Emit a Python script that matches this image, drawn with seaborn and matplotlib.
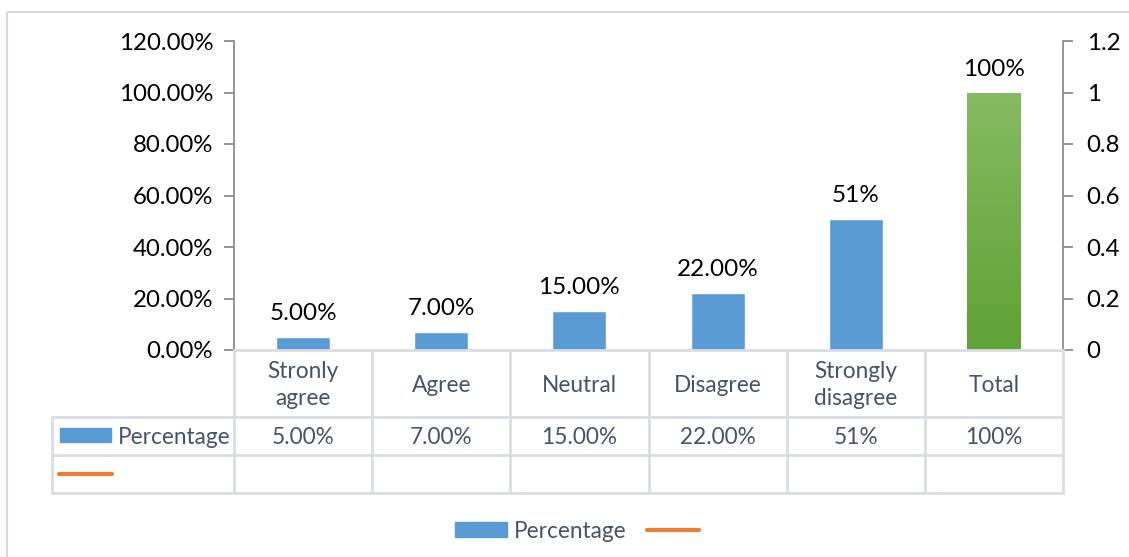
import numpy as np
import pandas as pd
import seaborn as sns
import matplotlib
matplotlib.use("Agg")
import matplotlib.pyplot as plt
from matplotlib import transforms
from matplotlib.patches import Rectangle, Patch
from matplotlib.lines import Line2D
from matplotlib.colors import LinearSegmentedColormap

categories = ["Stronly\nagree", "Agree", "Neutral", "Disagree", "Strongly\ndisagree", "Total"]
values = [0.05, 0.07, 0.15, 0.22, 0.51, 1.00]
value_labels = ["5.00%", "7.00%", "15.00%", "22.00%", "51%", "100%"]
left_ticks = [0, 0.2, 0.4, 0.6, 0.8, 1.0, 1.2]
left_tick_labels = ["0.00%", "20.00%", "40.00%", "60.00%", "80.00%", "100.00%", "120.00%"]
right_tick_labels = ["0", "0.2", "0.4", "0.6", "0.8", "1", "1.2"]
series_name = "Percentage"

BLUE = "#5B9BD5"
GREEN = "#70AD47"
ORANGE = "#ED7D31"
GRID = "#D9DDE3"
AXIS = "#8C8C8C"
TXT = "#44546A"

sns.set_theme(style="white")
plt.rcParams["font.family"] = ["Lato", "DejaVu Sans"]

W, H = 1129, 557
fig = plt.figure(figsize=(W / 100, H / 100), dpi=100)
pix = transforms.Affine2D().scale(1 / W, -1 / H).translate(0, 1) + fig.transFigure

ax = fig.add_axes([234 / W, (H - 350) / H, (1063 - 234) / W, 309 / H])
df = pd.DataFrame({"cat": categories, "val": values})
colors = [BLUE] * (len(categories) - 1) + [GREEN]
sns.barplot(data=df, x="cat", y="val", hue="cat", palette=colors, legend=False,
            width=0.39, saturation=1, ax=ax)

# gradient on total bar
p = ax.patches[-1]
bx0, by0 = p.get_x(), p.get_y()
bw, bh = p.get_width(), p.get_height()
grad = np.linspace(1, 0, 256).reshape(-1, 1)
cmap = LinearSegmentedColormap.from_list("g", ["#5FA234", "#87BA62"])
im = ax.imshow(grad, cmap=cmap, extent=(bx0, bx0 + bw, by0, by0 + bh), aspect="auto",
               origin="upper", zorder=3)
im.set_clip_path(p)

ax.set_xlim(-0.5, len(categories) - 0.5)
ax.set_ylim(0, 1.2)
ax.set_xlabel("")
ax.set_ylabel("")
ax.set_xticks([])
ax.set_yticks(left_ticks)
ax.set_yticklabels(left_tick_labels, fontsize=17.3, color="black")
ax.tick_params(axis="y", which="both", left=True, length=7, width=1.3, color=AXIS, pad=8)
for s in ["top", "right"]:
    ax.spines[s].set_visible(False)
ax.spines["left"].set_color(AXIS)
ax.spines["left"].set_linewidth(1.3)
ax.spines["bottom"].set_visible(False)

ax2 = ax.twinx()
ax2.set_ylim(0, 1.2)
ax2.set_yticks(left_ticks)
ax2.set_yticklabels(right_tick_labels, fontsize=17.3, color="black")
ax2.tick_params(axis="y", right=True, length=7, width=1.3, color=AXIS, pad=10)
for s in ["top", "left", "bottom"]:
    ax2.spines[s].set_visible(False)
ax2.spines["right"].set_color(AXIS)
ax2.spines["right"].set_linewidth(1.3)

# data labels
for i, (v, lab) in enumerate(zip(values, value_labels)):
    ax.annotate(lab, (i, v), xytext=(0, 13), textcoords="offset pixels",
                ha="center", va="bottom", fontsize=17.5, color="black")

# data table
xpix = transforms.blended_transform_factory(ax.transData, pix)
n = len(categories)
lw = 2
fig.add_artist(Line2D([-0.5, n - 0.5], [350, 350], transform=xpix, color=GRID, lw=lw))
for y0 in [417, 455, 493]:
    fig.add_artist(Line2D([52, 1063], [y0, y0], transform=pix, color=GRID, lw=lw))
for k in range(n + 1):
    fig.add_artist(Line2D([k - 0.5, k - 0.5], [350, 493], transform=xpix, color=GRID, lw=lw))
fig.add_artist(Line2D([52, 52], [417, 493], transform=pix, color=GRID, lw=lw))

for i, (c, lab) in enumerate(zip(categories, value_labels)):
    fig.text(i, 385, c, transform=xpix, ha="center", va="center", fontsize=16.3,
             color=TXT, linespacing=1.4)
    fig.text(i, 437, lab, transform=xpix, ha="center", va="center", fontsize=16.3, color=TXT)

fig.add_artist(Rectangle((60, 442), 51, -14, transform=pix, color=BLUE))
fig.text(118, 437, series_name, transform=pix, ha="left", va="center", fontsize=16.3, color=TXT)
fig.add_artist(Line2D([59, 112], [474, 474], transform=pix, color=ORANGE, lw=3,
                      solid_capstyle="round"))

# legend
handles = [Patch(color=BLUE), Line2D([0], [0], color=ORANGE, lw=3)]
leg = fig.legend(handles, [series_name, ""], loc="center", bbox_to_anchor=(580 / W, 1 - 531 / H),
                 ncol=2, frameon=False, fontsize=16.3, handlelength=2.3, handleheight=0.65,
                 columnspacing=0.9, handletextpad=0.3)
for t in leg.get_texts():
    t.set_color(TXT)

# chart border
fig.add_artist(Rectangle((7, 12), 1140, 560, transform=pix, fill=False, edgecolor="#D9D9D9", lw=1.5))

fig.savefig("out.png", dpi=100)
